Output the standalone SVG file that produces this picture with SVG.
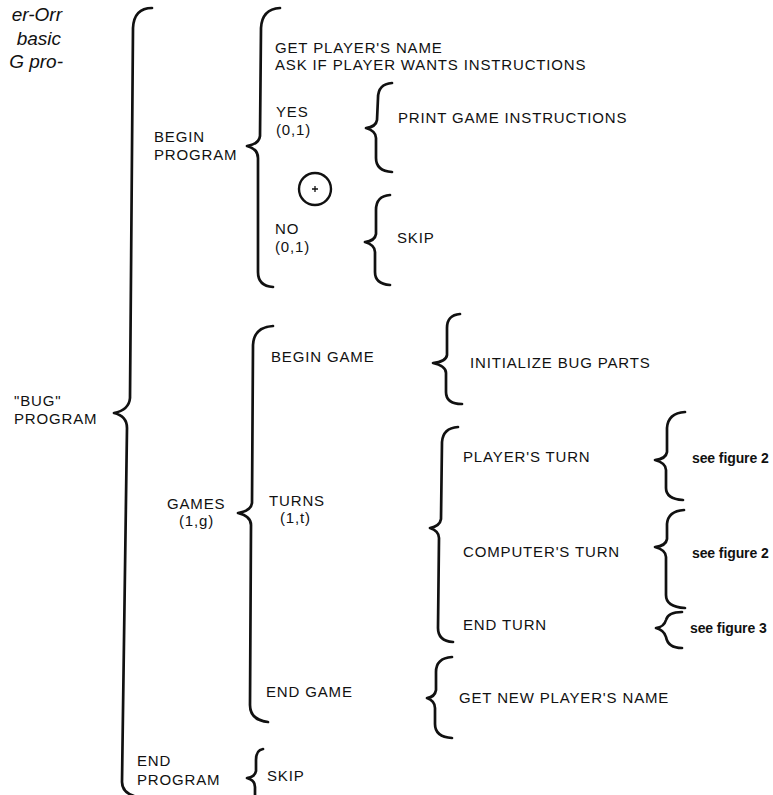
<svg xmlns="http://www.w3.org/2000/svg" width="773" height="795" viewBox="0 0 773 795">
<style>
.br{fill:none;stroke:#111;stroke-width:2.7;stroke-linecap:round;stroke-linejoin:round}
.t{font-family:"Liberation Sans",Arial,sans-serif;font-size:15px;letter-spacing:0.85px;fill:#111}
.s{font-family:"Liberation Sans",Arial,sans-serif;font-size:14px;font-weight:bold;letter-spacing:-0.1px;fill:#111}
.i{font-family:"Liberation Sans",Arial,sans-serif;font-size:19px;font-style:italic;fill:#111;text-anchor:end}
</style>
<rect width="773" height="795" fill="#fff"/>
<g id="caption">
<text class="i" x="62" y="21">er-Orr</text>
<text class="i" x="61" y="45">basic</text>
<text class="i" x="63" y="68">G pro-</text>
</g>
<g id="connectors">
<path id="b-main" class="br" d="M152,8 Q134,8 133,28 L130,398 Q129,410 114,413 Q127,416 127,428 L122,782 Q122,792 134,796"/>
<path id="b-beginprog" class="br" d="M280,8 Q262,9 261,28 L260,136 Q259,144 247,146 Q258,149 258,158 L258,272 Q258,286 273,287"/>
<path id="b-print" class="br" d="M392,83 Q378,84 378,98 L377,120 Q376,127 366,128 Q376,131 376,138 L376,158 Q376,171 392,172"/>
<path id="b-skip1" class="br" d="M390,195 Q376,196 376,210 L376,234 Q375,241 365,242 Q375,245 375,252 L375,272 Q375,284 390,285"/>
<path id="b-games" class="br" d="M273,326 Q254,327 253,345 L252,503 Q251,511 238,513 Q251,516 251,525 L250,705 Q250,720 268,722"/>
<path id="b-init" class="br" d="M460,314 Q447,315 447,328 L447,355 Q446,362 433,363 Q446,366 446,373 L446,392 Q446,404 462,404"/>
<path id="b-turns" class="br" d="M458,427 Q443,428 442,442 L441,519 Q440,526 430,528 Q439,531 439,538 L438,628 Q438,641 453,642"/>
<path id="b-fig2a" class="br" d="M685,412 Q668,413 667,428 L667,452 Q666,459 655,460 Q666,463 666,470 L666,488 Q666,499 683,500"/>
<path id="b-fig2b" class="br" d="M684,510 Q668,511 667,524 L667,539 Q666,546 655,547 Q666,550 666,557 L666,595 Q666,607 685,608"/>
<path id="b-fig3" class="br" d="M682,612 Q668,612 666,620 Q664,627 656,628 Q664,630 666,637 Q668,648 682,648"/>
<path id="b-getnew" class="br" d="M452,657 Q436,658 436,672 L436,690 Q435,697 427,698 Q435,701 435,708 L435,724 Q435,737 452,738"/>
<path id="b-skip2" class="br" d="M263,749 Q256,750 256,760 L256,771 Q255,777 247,778 Q255,780 255,787 L255,800"/>
</g>
<g id="n-bug"><text class="t" x="14" y="406">"BUG"</text><text class="t" x="14" y="424">PROGRAM</text></g>
<g id="n-beginprog"><text class="t" x="154" y="142">BEGIN</text><text class="t" x="154" y="160">PROGRAM</text></g>
<g id="n-getname"><text class="t" x="275" y="53">GET PLAYER'S NAME</text><text class="t" x="275" y="70">ASK IF PLAYER WANTS INSTRUCTIONS</text></g>
<g id="n-yes"><text class="t" x="276" y="117">YES</text><text class="t" x="276" y="135">(0,1)</text></g>
<g id="n-print"><text class="t" x="398" y="123">PRINT GAME INSTRUCTIONS</text></g>
<g id="n-xor"><circle cx="315" cy="189" r="16" fill="none" stroke="#111" stroke-width="2.4"/><path d="M312,189 H318 M315,186 V192" stroke="#111" stroke-width="1.3"/></g>
<g id="n-no"><text class="t" x="275" y="234">NO</text><text class="t" x="275" y="252">(0,1)</text></g>
<g id="n-skip1"><text class="t" x="397" y="243">SKIP</text></g>
<g id="n-games"><text class="t" x="167" y="509">GAMES</text><text class="t" x="179" y="526">(1,g)</text></g>
<g id="n-begingame"><text class="t" x="271" y="362">BEGIN GAME</text></g>
<g id="n-init"><text class="t" x="470" y="368">INITIALIZE BUG PARTS</text></g>
<g id="n-turns"><text class="t" x="269" y="506">TURNS</text><text class="t" x="280" y="523">(1,t)</text></g>
<g id="n-pturn"><text class="t" x="463" y="462">PLAYER'S TURN</text></g>
<g id="n-cturn"><text class="t" x="463" y="557">COMPUTER'S TURN</text></g>
<g id="n-endturn"><text class="t" x="463" y="630">END TURN</text></g>
<g id="n-fig2a"><text class="s" x="692" y="463">see figure 2</text></g>
<g id="n-fig2b"><text class="s" x="692" y="558">see figure 2</text></g>
<g id="n-fig3"><text class="s" x="690" y="633">see figure 3</text></g>
<g id="n-endgame"><text class="t" x="266" y="697">END GAME</text></g>
<g id="n-getnew"><text class="t" x="459" y="703">GET NEW PLAYER'S NAME</text></g>
<g id="n-endprog"><text class="t" x="137" y="766">END</text><text class="t" x="137" y="785">PROGRAM</text></g>
<g id="n-skip2"><text class="t" x="267" y="781">SKIP</text></g>
</svg>
